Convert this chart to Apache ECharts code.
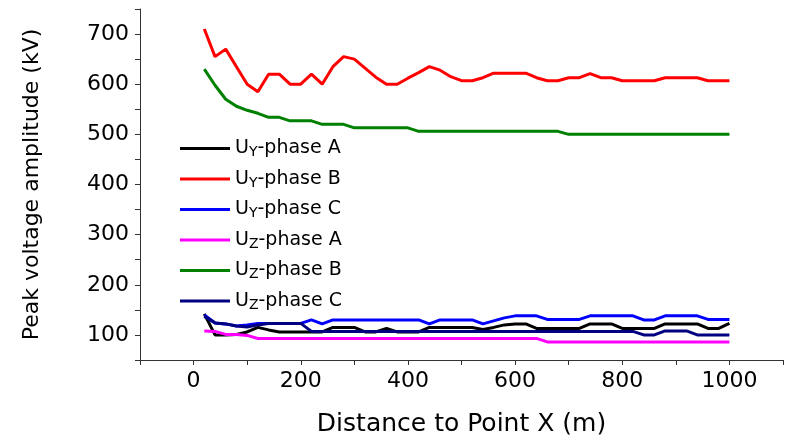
<!DOCTYPE html>
<html>
<head>
<meta charset="utf-8">
<script src="https://cdn.jsdelivr.net/npm/echarts@6/dist/echarts.min.js"></script>
<style>
  html, body { margin: 0; padding: 0; background: #fff; }
  #chart { width: 786px; height: 438px; }
</style>
</head>
<body>
<div id="chart"></div>
<script>
// Distance along the line (m)
const distance = [20, 40, 60, 80, 100, 120, 140, 160, 180, 200,
  220, 240, 260, 280, 300, 320, 340, 360, 380, 400,
  420, 440, 460, 480, 500, 520, 540, 560, 580, 600,
  620, 640, 660, 680, 700, 720, 740, 760, 780, 800,
  820, 840, 860, 880, 900, 920, 940, 960, 980, 1000];

// Peak voltage amplitude (kV)
const uyPhaseA = [142, 100, 100, 101, 106, 115, 110, 106, 106, 106,
  106, 106, 115, 115, 115, 106, 106, 113, 106, 106,
  106, 115, 115, 115, 115, 115, 111, 115, 120, 122,
  122, 113, 113, 113, 113, 113, 122, 122, 122, 113,
  113, 113, 113, 122, 122, 122, 122, 113, 113, 123];
const uyPhaseB = [710, 655, 670, 635, 600, 585, 620, 620, 600, 600,
  620, 600, 635, 655, 650, 632, 614, 600, 600, 612,
  623, 635, 628, 615, 607, 607, 613, 622, 622, 622,
  622, 613, 607, 607, 613, 613, 621, 613, 613, 607,
  607, 607, 607, 613, 613, 613, 613, 607, 607, 607];
const uyPhaseC = [140, 124, 122, 118, 120, 123, 123, 123, 123, 123,
  130, 122, 130, 130, 130, 130, 130, 130, 130, 130,
  130, 122, 130, 130, 130, 130, 122, 128, 134, 138,
  138, 138, 131, 131, 131, 131, 138, 138, 138, 138,
  138, 130, 130, 138, 138, 138, 138, 131, 131, 131];
const uzPhaseA = [108, 107, 101, 101, 99, 93, 93, 93, 93, 93,
  93, 93, 93, 93, 93, 93, 93, 93, 93, 93,
  93, 93, 93, 93, 93, 93, 93, 93, 93, 93,
  93, 93, 86, 86, 86, 86, 86, 86, 86, 86,
  86, 86, 86, 86, 86, 86, 86, 86, 86, 86];
const uzPhaseB = [630, 598, 570, 556, 548, 542, 534, 534, 527, 527,
  527, 520, 520, 520, 513, 513, 513, 513, 513, 513,
  506, 506, 506, 506, 506, 506, 506, 506, 506, 506,
  506, 506, 506, 506, 500, 500, 500, 500, 500, 500,
  500, 500, 500, 500, 500, 500, 500, 500, 500, 500];
const uzPhaseC = [137, 124, 122, 118, 116, 120, 123, 123, 123, 123,
  107, 107, 107, 107, 107, 107, 107, 107, 107, 107,
  107, 107, 107, 107, 107, 107, 107, 107, 107, 107,
  107, 107, 107, 107, 107, 107, 107, 107, 107, 107,
  107, 100, 100, 108, 108, 108, 100, 100, 100, 100];

const seriesNames = ['UY-phase A', 'UY-phase B', 'UY-phase C', 'UZ-phase A', 'UZ-phase B', 'UZ-phase C'];
const seriesValues = [uyPhaseA, uyPhaseB, uyPhaseC, uzPhaseA, uzPhaseB, uzPhaseC];
const seriesColors = ['#000000', '#ff0000', '#0000ff', '#ff00ff', '#008000', '#000080'];

const xTickLabels = [0, 200, 400, 600, 800, 1000];
const yTickLabels = [100, 200, 300, 400, 500, 600, 700];

const chart = echarts.init(document.getElementById('chart'), null, { renderer: 'canvas' });

const fontMain = 'DejaVu Sans';

chart.setOption({
  animation: false,
  backgroundColor: '#ffffff',
  grid: { left: 140, right: 3, top: 9, bottom: 78, containLabel: false, outerBoundsMode: 'none' },
  legend: {
    orient: 'vertical',
    left: 175,
    top: 134,
    itemWidth: 50,
    itemHeight: 3,
    itemGap: 10,
    icon: 'rect',
    data: seriesNames,
    formatter: function (name) {
      return '{u|U}{s|' + name.charAt(1) + '}{t|' + name.slice(2) + '}';
    },
    textStyle: {
      color: '#000',
      rich: {
        u: { fontFamily: fontMain, fontSize: 19, lineHeight: 22, color: '#000' },
        s: { fontFamily: fontMain, fontSize: 14, lineHeight: 14, color: '#000', verticalAlign: 'bottom' },
        t: { fontFamily: fontMain, fontSize: 19, lineHeight: 22, color: '#000' }
      }
    }
  },
  xAxis: {
    type: 'value',
    min: -100,
    max: 1100,
    interval: 100,
    name: 'Distance to Point X (m)',
    nameLocation: 'middle',
    nameGap: 52,
    nameTextStyle: { fontFamily: fontMain, fontSize: 25, color: '#000' },
    splitLine: { show: false },
    axisLine: { onZero: false, lineStyle: { color: '#333', width: 1 } },
    axisTick: { inside: false, length: 5, lineStyle: { color: '#333' } },
    axisLabel: {
      margin: 10,
      fontFamily: fontMain,
      fontSize: 22,
      color: '#000',
      formatter: function (v) { return xTickLabels.indexOf(v) >= 0 ? String(v) : ''; }
    }
  },
  yAxis: {
    type: 'value',
    min: 50,
    max: 750,
    interval: 50,
    name: 'Peak voltage amplitude (kV)',
    nameLocation: 'middle',
    nameGap: 97,
    nameTextStyle: { fontFamily: fontMain, fontSize: 22, color: '#000' },
    splitLine: { show: false },
    axisLine: { show: true, onZero: false, lineStyle: { color: '#333', width: 1 } },
    axisTick: { inside: false, length: 5, lineStyle: { color: '#333' } },
    axisLabel: {
      margin: 11,
      fontFamily: fontMain,
      fontSize: 22,
      color: '#000',
      formatter: function (v) { return yTickLabels.indexOf(v) >= 0 ? String(v) : ''; }
    }
  },
  series: seriesNames.map(function (name, i) {
    return {
      name: name,
      type: 'line',
      showSymbol: false,
      symbol: 'none',
      color: seriesColors[i],
      lineStyle: { width: 3, color: seriesColors[i] },
      data: distance.map(function (d, k) { return [d, seriesValues[i][k]]; })
    };
  })
});
</script>
</body>
</html>
